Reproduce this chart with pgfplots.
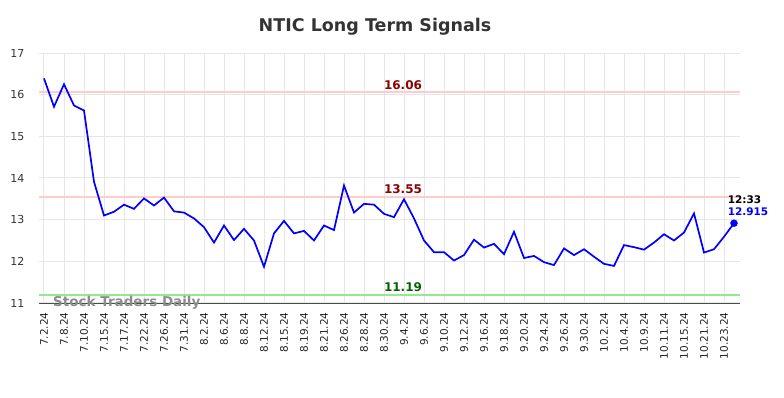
\documentclass[border=0pt]{standalone}
\usepackage{pgfplots}
\pgfplotsset{compat=1.18}
\usetikzlibrary{calc}
\usepackage{fontspec}
\setmainfont{DejaVu Sans}
\definecolor{gridc}{RGB}{230,230,230}
\definecolor{resred}{RGB}{139,0,0}
\definecolor{supgreen}{RGB}{0,100,0}
\definecolor{pinkline}{RGB}{255,204,204}
\definecolor{greenline}{RGB}{150,230,150}
\begin{document}
\begin{tikzpicture}[x=1pt,y=1pt]
\begin{axis}[
  width=701pt, height=250pt, scale only axis,
  xmin=-0.5, xmax=69.6, ymin=11, ymax=17,
  ytick={11,12,...,17},
  xtick={0,2,...,68},
  xticklabels={7.2.24,7.8.24,7.10.24,7.15.24,7.17.24,7.22.24,7.26.24,7.31.24,8.2.24,8.6.24,8.8.24,8.12.24,8.15.24,8.19.24,8.21.24,8.26.24,8.28.24,8.30.24,9.4.24,9.6.24,9.10.24,9.12.24,9.16.24,9.18.24,9.20.24,9.24.24,9.26.24,9.30.24,10.2.24,10.4.24,10.9.24,10.11.24,10.15.24,10.21.24,10.23.24},
  x tick label style={rotate=90, anchor=east, font=\fontsize{10.5}{12}\selectfont, text=black!85},
  y tick label style={font=\fontsize{11}{12}\selectfont, text=black!80},
  /pgf/number format/assume math mode=true,
  grid=major, major grid style={gridc, line width=1pt},
  major tick length=0pt,
  axis x line*=bottom, axis y line*=left,
  x axis line style={-, draw=black!70, line width=0.9pt},
  y axis line style={draw=none},
  clip=false,
  xticklabel shift=6pt, yticklabel shift=11pt,
]
\coordinate (ll) at (axis cs:-0.5,11);
\addplot[pinkline, line width=1.6pt, forget plot] coordinates {(-0.5,16.06) (69.6,16.06)};
\addplot[pinkline, line width=1.6pt, forget plot] coordinates {(-0.5,13.55) (69.6,13.55)};
\addplot[greenline, line width=1.6pt, forget plot] coordinates {(-0.5,11.19) (69.6,11.19)};
\addplot[blue, line width=1.7pt, mark=none] coordinates {
(0,16.39) (1,15.71) (2,16.25) (3,15.74) (4,15.62) (5,13.91) (6,13.10) (7,13.19) (8,13.36) (9,13.26)
(10,13.51) (11,13.34) (12,13.53) (13,13.20) (14,13.17) (15,13.03) (16,12.82) (17,12.45) (18,12.86) (19,12.51)
(20,12.78) (21,12.50) (22,11.87) (23,12.67) (24,12.97) (25,12.67) (26,12.73) (27,12.50) (28,12.86) (29,12.75)
(30,13.82) (31,13.17) (32,13.38) (33,13.36) (34,13.14) (35,13.06) (36,13.49) (37,13.03) (38,12.50) (39,12.22)
(40,12.22) (41,12.02) (42,12.15) (43,12.52) (44,12.33) (45,12.42) (46,12.17) (47,12.71) (48,12.08) (49,12.13)
(50,11.98) (51,11.91) (52,12.31) (53,12.15) (54,12.29) (55,12.11) (56,11.94) (57,11.89) (58,12.39) (59,12.34)
(60,12.28) (61,12.45) (62,12.65) (63,12.50) (64,12.69) (65,13.15) (66,12.21) (67,12.29) (68,12.59) (69,12.915)
};
\addplot[blue, only marks, mark=*, mark size=3.5pt] coordinates {(69,12.915)};
\node[anchor=west, inner sep=0pt, font=\bfseries\fontsize{13.5}{15}\selectfont, text=black!45] at (axis cs:0.9,11.0) {Stock Traders Daily};
\node[font=\bfseries\fontsize{12}{14}\selectfont, text=resred] at (axis cs:35.9,16.24) {16.06};
\node[font=\bfseries\fontsize{12}{14}\selectfont, text=resred] at (axis cs:35.9,13.74) {13.55};
\node[font=\bfseries\fontsize{12}{14}\selectfont, text=supgreen] at (axis cs:35.9,11.37) {11.19};
\node[font=\bfseries\fontsize{10.5}{12}\selectfont, text=black] at (axis cs:70.05,13.49) {12:33};
\node[font=\bfseries\fontsize{10.5}{12}\selectfont, text=blue] at (axis cs:70.4,13.19) {12.915};
\end{axis}
\node[font=\bfseries\fontsize{17.5}{20}\selectfont, text=black!80] at ($(ll)+(336,276)$) {NTIC Long Term Signals};
\pgfresetboundingbox
\useasboundingbox ($(ll)+(-39,-95)$) rectangle ($(ll)+(745,303)$);
\end{tikzpicture}
\end{document}
